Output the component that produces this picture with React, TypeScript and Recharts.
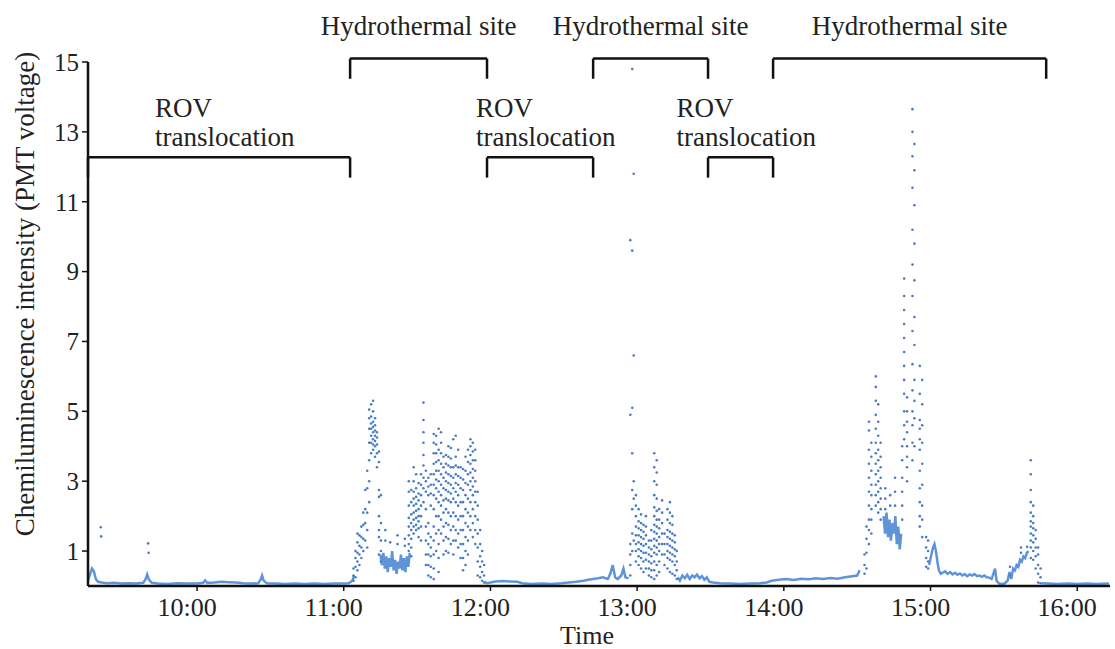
import React from 'react';
import { ComposedChart, Line, Scatter, XAxis, YAxis, ReferenceLine } from 'recharts';

// time is in minutes after midnight
const hourTicks = [600, 660, 720, 780, 840, 900, 960];
const voltTicks = [1, 3, 5, 7, 9, 11, 13, 15];

const siteSpans = [[662.6, 718.6], [762.0, 809.0], [835.6, 947.3]];
const rovSpans = [[555.4, 662.6], [718.6, 762.0], [809.0, 835.6]];

// continuous low level trace, [minute, PMT voltage]
const traceMorning = [
  [555.5, 0.18], [556.3, 0.35], [557, 0.5], [557.8, 0.42], [558.6, 0.2], [559.5, 0.12], [561, 0.1], [563, 0.08],
  [566, 0.09], [569, 0.07], [572, 0.08], [575, 0.07], [578, 0.09], [579, 0.2], [579.6, 0.33], [580.3, 0.18],
  [581.5, 0.09], [584, 0.07], [588, 0.06], [592, 0.08], [596, 0.07], [600, 0.07], [602.5, 0.09], [603.3, 0.16],
  [604.2, 0.09], [607, 0.1], [610, 0.12], [613, 0.11], [616, 0.1], [619, 0.08], [622, 0.07], [625, 0.08],
  [626, 0.18], [626.6, 0.3], [627.2, 0.16], [628.5, 0.08], [632, 0.07], [636, 0.06], [640, 0.07], [644, 0.06],
  [648, 0.07], [652, 0.06], [656, 0.07], [659, 0.07], [662, 0.08], [663.5, 0.15], [664.3, 0.3],
];
const bandSite1 = [
  [675.0, 0.9], [675.6, 0.6], [676.2, 0.95], [676.8, 0.5], [677.4, 0.85], [678.0, 0.4], [678.6, 0.8], [679.2, 0.55],
  [679.8, 1.0], [680.4, 0.45], [681.0, 0.75], [681.6, 0.35], [682.2, 0.7], [682.8, 0.5], [683.4, 0.9], [684.0, 0.45],
  [684.6, 0.8], [685.2, 0.4], [685.8, 0.85], [686.4, 0.55], [687.0, 0.95],
];
const traceMidday = [
  [717.5, 0.12], [718.5, 0.08], [720, 0.1], [722, 0.13], [725, 0.14], [728, 0.13], [731, 0.12], [733, 0.08],
  [737, 0.06], [741, 0.07], [745, 0.06], [749, 0.08], [752, 0.1], [755, 0.12], [758, 0.15], [760, 0.18],
  [762, 0.2], [764, 0.22], [766, 0.25], [768, 0.2], [769, 0.35], [770, 0.6], [771, 0.25], [772, 0.2],
  [773.5, 0.3], [774.4, 0.5], [775.2, 0.25], [776.5, 0.22],
];
const traceAfternoon = [
  [796.6, 0.25], [797.5, 0.15], [798.5, 0.3], [799.5, 0.22], [800.5, 0.32], [801.5, 0.2], [802.5, 0.3], [803.5, 0.25],
  [804.5, 0.33], [805.5, 0.22], [806.5, 0.28], [807.5, 0.18], [808.5, 0.25], [809.5, 0.12], [811, 0.1], [814, 0.08],
  [818, 0.07], [822, 0.06], [826, 0.07], [830, 0.08], [833, 0.1], [835, 0.15], [838, 0.18], [841, 0.2],
  [844, 0.17], [847, 0.21], [850, 0.19], [853, 0.22], [856, 0.2], [859, 0.23], [862, 0.21], [865, 0.25],
  [868, 0.28], [870, 0.3], [871, 0.45],
];
const bandSite3 = [
  [880.8, 2.0], [881.4, 1.5], [882.0, 2.1], [882.6, 1.4], [883.2, 1.9], [883.8, 1.3], [884.4, 1.8], [885.0, 1.5],
  [885.6, 2.0], [886.2, 1.2], [886.8, 1.7], [887.4, 1.05], [888.0, 1.5],
];
const traceLate = [
  [899.4, 0.6], [900.2, 0.85], [901.0, 1.1], [901.6, 1.2], [902.2, 1.0], [902.8, 0.7], [903.4, 0.45], [904.2, 0.35],
  [905, 0.38], [906, 0.42], [907, 0.35], [908, 0.4], [909, 0.33], [910, 0.38], [911, 0.32], [912, 0.36],
  [913, 0.3], [914, 0.34], [915, 0.28], [916, 0.33], [917, 0.3], [918, 0.34], [919, 0.28], [920, 0.3],
  [921, 0.26], [922, 0.3], [923, 0.25], [924, 0.24], [925, 0.2], [926.4, 0.5], [927, 0.15], [928, 0.07],
  [930, 0.06], [931.5, 0.15], [932.3, 0.4], [933, 0.2], [933.8, 0.5], [934.5, 0.45], [935.2, 0.6], [935.9, 0.55],
  [936.6, 0.75], [937.3, 0.7], [938, 0.85], [938.7, 0.8], [939.4, 0.95], [940.1, 1.0],
];
const traceEvening = [
  [945.5, 0.08], [948, 0.07], [952, 0.06], [956, 0.07], [960, 0.06], [964, 0.07], [968, 0.06], [973, 0.07],
];

// scattered readings, [minute, readings in that minute]
const dotsMorning = [
  [560.6, [1.68]], [560.8, [1.42]], [580.0, [1.22]], [580.2, [0.95]],
];
const dotsSite1 = [
  [664.0, [0.15, 0.3, 0.5]], [664.8, [0.25, 0.55, 0.8, 1.0]], [665.6, [0.45, 0.7, 0.95, 1.25, 1.5]],
  [666.4, [0.6, 0.9, 1.15, 1.45]], [667.2, [0.8, 1.1, 1.4, 1.7]], [668.0, [1.0, 1.35, 1.75, 2.1]],
  [668.8, [1.3, 1.8, 2.2, 2.75]], [669.6, [1.1, 1.6, 2.1, 2.8, 3.3]],
  [670.4, [2.4, 3.0, 3.6, 4.1, 4.5, 4.8, 5.05]], [671.2, [3.8, 4.1, 4.3, 4.5, 4.65, 4.85, 5.2]],
  [672.0, [3.9, 4.05, 4.2, 4.4, 4.55, 4.7, 5.0, 5.3]], [672.8, [3.7, 4.0, 4.15, 4.3, 4.45, 4.6, 4.8]],
  [673.6, [3.4, 3.8, 4.05, 4.25, 4.4]], [674.4, [0.9, 1.4, 1.6, 2.0, 2.55, 2.75, 3.55, 3.85]],
  [675.2, [0.7, 1.0, 1.3, 1.8, 2.6]], [677.0, [1.3, 1.6]], [679.0, [1.25]], [682.0, [1.2, 1.45]], [685.0, [1.15, 1.35]],
  [686.6, [1.0, 1.2, 1.45, 1.7, 1.95, 2.3, 2.7, 3.0]], [687.6, [0.85, 1.1, 1.35, 1.6, 1.8, 2.05, 2.4, 2.75]],
  [688.6, [1.5, 1.7, 1.9, 2.1, 2.3, 2.5, 2.7, 3.0, 3.4]], [689.6, [1.6, 1.75, 1.95, 2.15, 2.35, 2.55, 2.8, 3.2]],
  [690.6, [1.4, 1.65, 1.85, 2.0, 2.2, 2.45, 2.65, 2.95]], [691.6, [1.3, 1.7, 2.0, 2.3, 2.6, 2.9, 3.2]],
  [692.6, [2.4, 2.8, 3.1, 3.45, 3.75, 4.1, 4.4, 4.75, 5.25]], [693.6, [0.6, 0.9, 1.3, 1.7, 2.2, 2.7, 3.0, 3.3]],
  [694.6, [0.3, 0.6, 0.9, 1.2, 1.5, 1.8, 2.6, 2.85, 3.1]], [695.6, [0.25, 0.55, 0.85, 1.1, 1.4, 2.3, 2.65, 2.9, 3.2]],
  [696.8, [0.2, 0.5, 0.9, 1.3, 1.7, 2.2, 2.6, 2.9, 3.2, 3.5, 3.8, 4.1, 4.35]],
  [697.8, [1.0, 1.5, 2.0, 2.5, 2.8, 3.05, 3.3, 3.55, 3.8, 4.05, 4.3]],
  [698.8, [0.4, 0.8, 1.2, 1.6, 2.0, 2.4, 2.7, 3.0, 3.3, 3.6, 3.9, 4.5]],
  [699.8, [1.5, 1.9, 2.3, 2.6, 2.9, 3.2, 3.5, 3.8, 4.1, 4.4]], [700.8, [0.9, 1.3, 1.7, 2.1, 2.45, 2.8, 3.1, 3.4, 3.7]],
  [701.8, [1.0, 1.4, 1.8, 2.2, 2.5, 2.75, 3.0, 3.25, 3.5, 3.75]],
  [702.8, [0.95, 1.35, 1.75, 2.1, 2.45, 2.7, 2.95, 3.2, 3.45, 3.7, 4.0]],
  [703.8, [1.2, 1.6, 2.0, 2.4, 2.65, 2.9, 3.15, 3.4, 3.65, 3.95]], [704.8, [0.9, 1.3, 1.7, 2.1, 2.5, 2.8, 3.1, 3.4, 4.2]],
  [705.8, [1.3, 1.6, 2.0, 2.4, 2.7, 2.95, 3.2, 3.45, 3.7, 4.3]], [706.8, [1.1, 1.5, 1.9, 2.3, 2.6, 2.9, 3.15, 3.4, 3.9]],
  [707.8, [0.8, 1.2, 1.6, 2.0, 2.4, 2.8, 3.1, 3.4]], [708.8, [0.45, 0.8, 1.2, 1.6, 2.0, 2.4, 2.75, 3.05, 3.35]],
  [709.8, [0.6, 1.0, 1.4, 1.8, 2.2, 2.6, 2.95, 3.3, 3.7]], [710.8, [0.9, 1.3, 1.7, 2.1, 2.5, 2.9, 3.2, 3.55, 3.9]],
  [711.8, [1.6, 2.0, 2.4, 2.75, 3.0, 3.25, 3.5, 3.75, 4.0, 4.2]], [712.8, [1.4, 1.8, 2.2, 2.6, 2.85, 3.1, 3.35, 3.6, 3.85, 4.1]],
  [713.8, [1.2, 1.6, 2.0, 2.4, 2.7, 3.0, 3.3, 3.6, 3.9]], [714.8, [0.3, 0.7, 1.1, 1.5, 1.9, 2.3, 2.7]],
  [715.8, [0.25, 0.55, 0.85, 1.2, 1.6]], [716.6, [0.15, 0.4, 0.7, 1.0]], [717.4, [0.1, 0.3, 0.6]],
];
const dotsSite2 = [
  [777.2, [0.3, 0.6, 0.9, 1.2, 4.9, 9.9]], [778.0, [1.0, 1.5, 2.2, 2.75, 3.8, 5.1, 9.6, 14.8]],
  [778.6, [1.3, 2.5, 3.0, 6.6, 11.8]], [779.5, [0.7, 1.0, 1.2, 1.45, 1.7, 2.0, 2.3, 2.6]],
  [780.6, [0.6, 0.85, 1.05, 1.25, 1.45, 1.65, 1.85, 2.2]], [781.6, [0.5, 0.8, 1.0, 1.2, 1.4, 1.6, 1.8, 2.05]],
  [782.6, [0.4, 0.7, 0.95, 1.15, 1.35, 1.55, 1.75]], [783.6, [0.5, 0.75, 0.95, 1.2, 1.45, 1.7, 2.0]],
  [784.8, [0.3, 0.5, 0.7, 0.9, 1.1, 1.3]], [785.8, [0.25, 0.45, 0.65, 0.85, 1.05, 1.3, 1.6]],
  [787.0, [0.2, 0.45, 0.7, 0.95, 1.15, 1.35, 1.55, 1.75, 2.0, 2.25, 2.6, 3.0, 3.4, 3.8]],
  [788.0, [0.3, 0.6, 0.9, 1.1, 1.3, 1.5, 1.7, 1.9, 2.15, 2.5, 2.9, 3.25, 3.6]],
  [789.0, [0.4, 0.7, 1.0, 1.2, 1.4, 1.65, 1.9, 2.2]], [790.2, [0.9, 1.2, 1.5, 1.8, 2.1, 2.45]],
  [791.2, [0.6, 0.9, 1.2, 1.5]], [792.4, [0.5, 0.8, 1.0, 1.2, 1.4, 1.6, 1.9, 2.2]],
  [793.4, [0.4, 0.75, 0.95, 1.15, 1.35, 1.55, 1.8, 2.1, 2.4]], [794.4, [0.35, 0.7, 0.9, 1.1, 1.3, 1.5, 1.75, 2.0]],
  [795.4, [0.3, 0.6, 0.85, 1.05, 1.25, 1.45]], [796.2, [0.2, 0.45, 0.7, 1.0]],
];
const dotsSite3 = [
  [873.0, [0.35, 0.6, 0.9]], [873.8, [0.5, 0.95, 1.35, 1.7]],
  [874.8, [1.2, 1.6, 1.9, 2.3, 2.7, 3.1, 3.5, 3.9, 4.45, 4.7]], [875.8, [1.5, 1.9, 2.2, 2.6, 2.9, 3.3, 3.7, 4.1]],
  [877.6, [2.3, 2.6, 2.9, 3.2, 3.5, 3.8, 4.1, 4.5, 4.9, 5.3, 5.7, 6.0]],
  [878.6, [2.1, 2.4, 2.7, 3.0, 3.3, 3.6, 3.9, 4.3, 4.7, 5.2]], [879.6, [1.9, 2.2, 2.5, 2.8, 3.1, 3.4, 3.7, 4.1]],
  [881.5, [2.2, 2.5, 2.8]], [883.5, [2.3, 2.6]], [885.5, [2.3, 2.7, 3.1]], [888.4, [1.9, 2.3, 2.7, 3.1, 3.6, 4.0]],
  [889.2, [4.2, 4.6, 5.0, 5.5, 5.9, 6.3, 6.7, 7.1, 7.5, 7.9, 8.3, 8.8]], [890.4, [3.0, 3.4, 3.7, 4.0, 4.4, 4.7, 5.0, 5.4]],
  [892.6, [3.6, 4.1, 4.6, 5.0, 5.6, 6.35, 7.3, 8.3, 9.2, 10.2, 11.4, 12.3, 13.0, 13.65]],
  [893.4, [4.0, 4.8, 5.3, 5.9, 6.9, 7.7, 8.75, 9.8, 10.9, 11.9, 12.65]],
  [895.6, [1.7, 2.0, 2.4, 2.8, 3.3, 3.9, 4.2, 4.5, 4.75, 5.5, 6.3]], [896.6, [1.4, 1.9, 2.3, 2.9, 3.5, 4.1, 4.6, 5.2, 5.9]],
  [898.2, [0.55, 0.8, 1.1, 1.4]], [899.0, [0.5, 0.7, 1.0, 1.3]],
  [932.5, [0.3, 0.55]], [937.0, [0.95, 1.1]], [939.5, [1.12]],
  [941.0, [0.8, 1.1, 1.3, 1.5, 1.7, 1.85, 2.1, 2.4, 2.75, 3.2, 3.6]], [942.0, [0.75, 1.0, 1.25, 1.45, 1.65, 1.8, 2.0, 2.3]],
  [943.0, [0.5, 0.85, 1.1, 1.35, 1.6]], [944.0, [0.1, 0.35, 0.6, 0.9, 1.1]], [945.0, [0.08, 0.25, 0.5]],
];

const traceSegments = [traceMorning, bandSite1, traceMidday, traceAfternoon, bandSite3, traceLate, traceEvening];
const dotPoints = [...dotsMorning, ...dotsSite1, ...dotsSite2, ...dotsSite3].flatMap(([t, vals]: any) =>
  vals.map((v: number) => ({ t, v }))
);

const SERIF = "'Liberation Serif', 'Times New Roman', serif";
const INK = '#222';
const SITE_Y = 15.1;
const ROV_Y = 12.27;
const TICK_DROP = 0.58;

const fmtHour = (m: number) => `${Math.floor(m / 60)}:${String(m % 60).padStart(2, '0')}`;

const SiteLabel = (props: any) => {
  const vb = props.viewBox || {};
  return (
    <text x={vb.x + vb.width / 2} y={vb.y - 24} textAnchor="middle" fontFamily={SERIF} fontSize={27} fill={INK}>
      Hydrothermal site
    </text>
  );
};

const RovLabel = (props: any) => {
  const vb = props.viewBox || {};
  const x0 = vb.x + vb.width / 2 - 64;
  return (
    <text fontFamily={SERIF} fontSize={27} fill={INK}>
      <tspan x={x0} y={vb.y - 40}>ROV</tspan>
      <tspan x={x0} y={vb.y - 11}>translocation</tspan>
    </text>
  );
};

// axis titles sit at fixed spots, like the figure
const TimeTitle = () => (
  <text x={587} y={644} textAnchor="middle" fontFamily={SERIF} fontSize={26} fill={INK}>
    Time
  </text>
);

const VoltTitle = () => (
  <text x={34} y={294} transform="rotate(-90, 34, 294)" textAnchor="middle" fontFamily={SERIF} fontSize={27} fill={INK}>
    Chemiluminescence intensity (PMT voltage)
  </text>
);

const Dot = (p: any) => <circle cx={p.cx} cy={p.cy} r={1.3} fill="#4a7cc4" />;

const bracket = (span: number[], level: number, Label: any, key: string) => [
  <ReferenceLine key={`${key}-h`} segment={[{ x: span[0], y: level }, { x: span[1], y: level }]}
    stroke="#111" strokeWidth={2.5} ifOverflow="visible" label={<Label />} />,
  <ReferenceLine key={`${key}-l`} segment={[{ x: span[0], y: level }, { x: span[0], y: level - TICK_DROP }]}
    stroke="#111" strokeWidth={2.5} ifOverflow="visible" />,
  <ReferenceLine key={`${key}-r`} segment={[{ x: span[1], y: level }, { x: span[1], y: level - TICK_DROP }]}
    stroke="#111" strokeWidth={2.5} ifOverflow="visible" />,
];

export default function App() {
  return (
    <div style={{ position: 'absolute', left: 0, top: 0, width: 1115, height: 649, background: '#fff' }}>
      <ComposedChart width={1115} height={649} margin={{ top: 62, right: 5, bottom: 3, left: 0 }}>
        <XAxis
          type="number"
          dataKey="t"
          domain={[555.4, 973.4]}
          allowDataOverflow
          ticks={hourTicks}
          tickFormatter={fmtHour}
          height={60}
          axisLine={{ stroke: '#111', strokeWidth: 2.5 }}
          tickLine={{ stroke: '#111', strokeWidth: 1.5 }}
          tickSize={5}
          tickMargin={7}
          tick={{ fontFamily: SERIF, fontSize: 26, fill: INK, dx: -10 }}
          label={<TimeTitle />}
        />
        <YAxis
          type="number"
          dataKey="v"
          domain={[0, 15]}
          allowDataOverflow
          ticks={voltTicks}
          width={88}
          axisLine={{ stroke: '#111', strokeWidth: 2.5 }}
          tickLine={{ stroke: '#111', strokeWidth: 1.5 }}
          tickSize={6}
          tickMargin={3}
          tick={{ fontFamily: SERIF, fontSize: 25, fill: INK }}
          label={<VoltTitle />}
        />
        {traceSegments.map((seg, i) => (
          <Line
            key={`trace-${i}`}
            data={seg.map(([t, v]) => ({ t, v }))}
            dataKey="v"
            type="linear"
            stroke="#5f95d8"
            strokeWidth={2.5}
            dot={false}
            activeDot={false}
            isAnimationActive={false}
          />
        ))}
        <Scatter data={dotPoints} dataKey="v" shape={<Dot />} isAnimationActive={false} />
        {siteSpans.flatMap((s, i) => bracket(s, SITE_Y, SiteLabel, `site${i}`))}
        {rovSpans.flatMap((s, i) => bracket(s, ROV_Y, RovLabel, `rov${i}`))}
      </ComposedChart>
    </div>
  );
}
